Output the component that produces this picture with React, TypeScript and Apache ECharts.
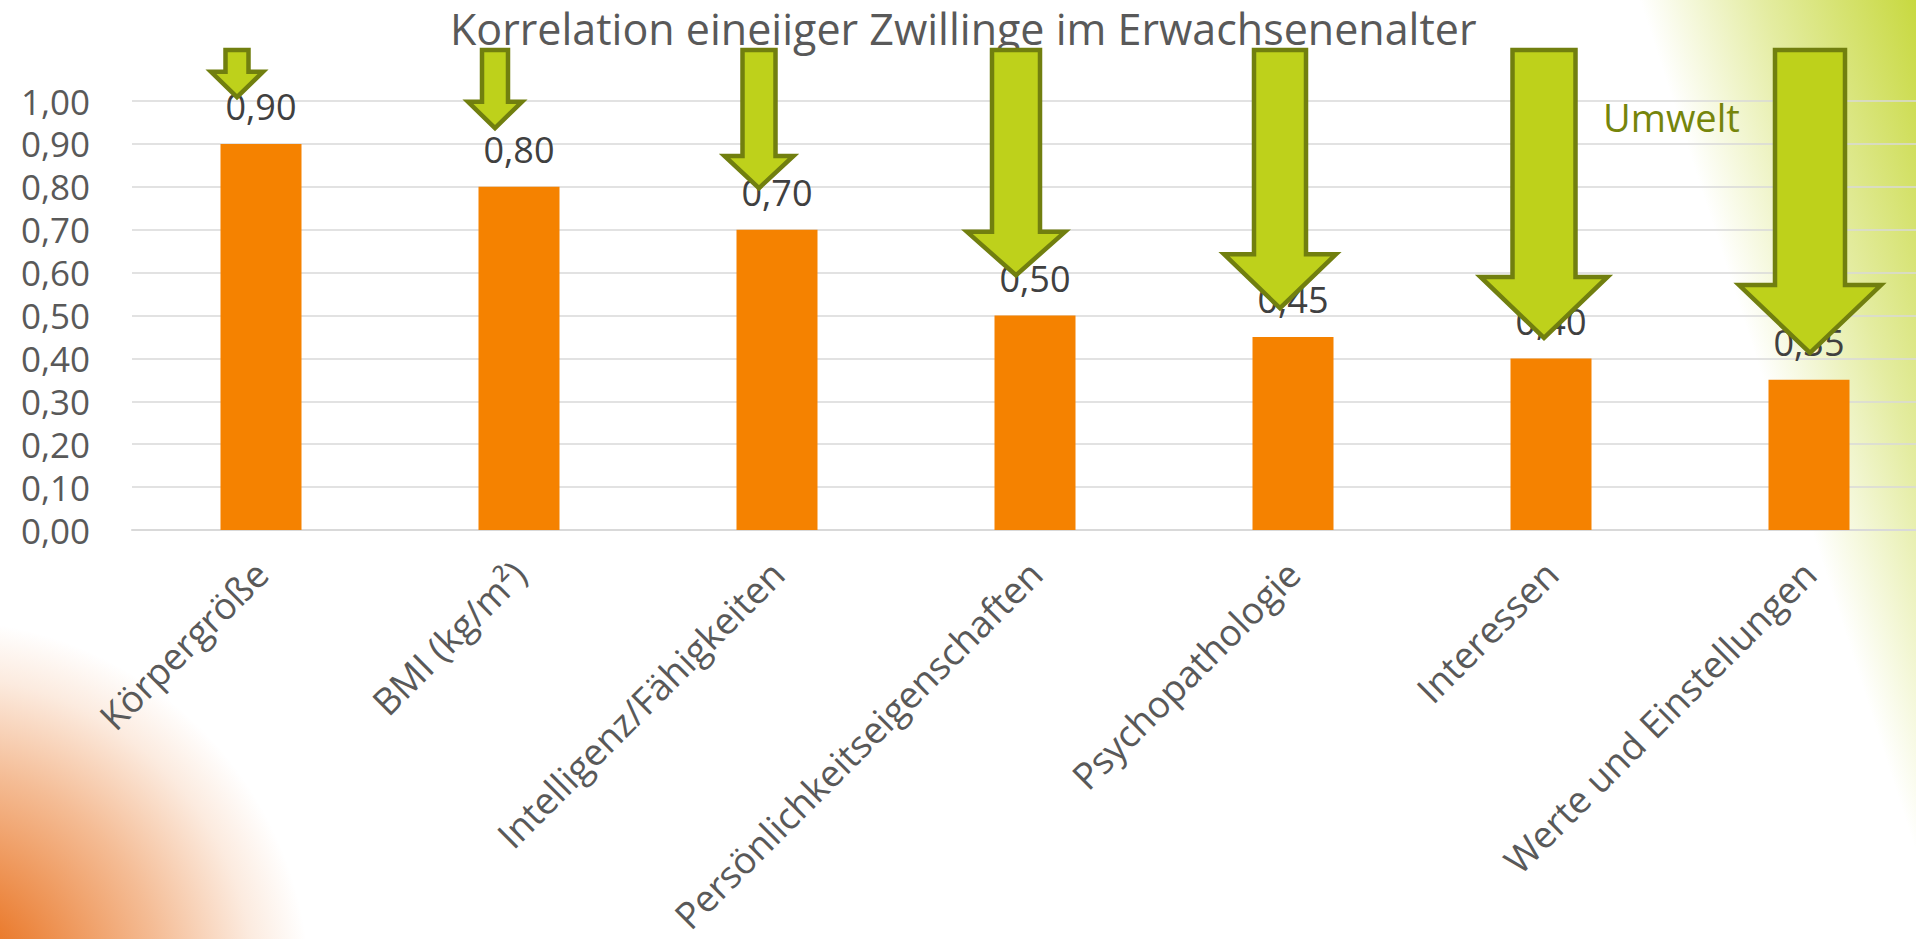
import React, { useEffect, useRef } from "react";
import * as echarts from "echarts";

// ---- data ----
const categories = [
  "Körpergröße",
  "BMI (kg/m²)",
  "Intelligenz/Fähigkeiten",
  "Persönlichkeitseigenschaften",
  "Psychopathologie",
  "Interessen",
  "Werte und Einstellungen",
];
const correlation = [0.9, 0.8, 0.7, 0.5, 0.45, 0.4, 0.35];
const yTicks = [0, 0.1, 0.2, 0.3, 0.4, 0.5, 0.6, 0.7, 0.8, 0.9, 1.0];

// "Umwelt" arrows, in value units (top of shaft, base of head, tip)
const arrowTop = [1.119, 1.119, 1.119, 1.119, 1.119, 1.119, 1.119];
const arrowHeadBase = [1.068, 0.998, 0.872, 0.695, 0.643, 0.59, 0.571];
const arrowTip = [1.009, 0.937, 0.797, 0.594, 0.517, 0.448, 0.413];

// arrow drawing sizes (px)
const arrowShaftWidth = [23, 26, 33, 48, 52, 63, 70];
const arrowHeadWidth = [52, 54, 69, 98, 112, 127, 142];
const arrowShift = [-24, -24, -18, -19, -13, -7, 1];

const title = "Korrelation eineiiger Zwillinge im Erwachsenenalter";
const noteText = "Umwelt";

const FONT = "'Open Sans', 'DejaVu Sans', sans-serif";
const fmt = (v: number) => v.toFixed(2).replace(".", ",");

export default function App() {
  const ref = useRef<HTMLDivElement>(null);

  useEffect(() => {
    if (!ref.current) return;
    const chart = echarts.init(ref.current, undefined, { renderer: "svg" });

    const arrowData = categories.map((_, i) => [i, arrowTip[i], arrowHeadBase[i], arrowTop[i]]);

    const orange = (a: number) => `rgba(232,110,25,${a})`;
    const green = (a: number) => `rgba(190,210,30,${a})`;

    const option: any = {
      animation: false,
      backgroundColor: "#ffffff",
      title: {
        text: title,
        left: 445,
        top: 1,
        textStyle: {
          fontFamily: FONT,
          fontSize: 43,
          fontWeight: "normal",
          color: "#595959",
          lineHeight: 44,
        },
      },
      graphic: [
        {
          type: "circle",
          z: -10,
          silent: true,
          shape: { cx: -60, cy: 990, r: 370 },
          style: {
            fill: new echarts.graphic.RadialGradient(-60, 990, 370, [
              { offset: 0, color: orange(1) },
              { offset: 0.22, color: orange(0.9) },
              { offset: 0.6, color: orange(0.46) },
              { offset: 0.85, color: orange(0.14) },
              { offset: 1, color: orange(0) },
            ], true),
          },
        },
        {
          type: "rect",
          z: -10,
          silent: true,
          shape: { x: 1500, y: 0, width: 416, height: 939 },
          style: {
            fill: new echarts.graphic.LinearGradient(1666, 81, 1916, 0, [
              { offset: 0, color: green(0) },
              { offset: 0.45, color: green(0.42) },
              { offset: 1, color: green(0.85) },
            ], true),
          },
        },
        {
          type: "text",
          z: 20,
          style: {
            x: 1603,
            y: 117,
            text: noteText,
            fontFamily: FONT,
            fontSize: 38,
            fill: "#76850B",
            verticalAlign: "middle",
            align: "left",
          },
        },
      ],
      grid: {
        left: 132,
        top: 101,
        width: 1806,
        bottom: 409,
        containLabel: false,
        outerBoundsMode: "none",
      },
      xAxis: {
        type: "category",
        data: categories,
        axisTick: { show: false },
        axisLine: { lineStyle: { color: "#D9D9D9", width: 2 } },
        axisLabel: {
          interval: 0,
          rotate: 45,
          margin: 37,
          fontFamily: FONT,
          fontSize: 37,
          color: "#595959",
        },
      },
      yAxis: {
        type: "value",
        min: yTicks[0],
        max: yTicks[yTicks.length - 1],
        interval: 0.1,
        axisLine: { show: false },
        axisTick: { show: false },
        splitLine: { lineStyle: { color: "#D9D9D9", width: 1.5 } },
        axisLabel: {
          margin: 42,
          fontFamily: FONT,
          fontSize: 35,
          lineHeight: 36,
          color: "#595959",
          formatter: (v: number) => fmt(v),
        },
      },
      series: [
        {
          type: "bar",
          data: correlation,
          barWidth: 81,
          itemStyle: { color: "#F58200" },
          label: {
            show: true,
            position: "top",
            distance: 19,
            fontFamily: FONT,
            fontSize: 36,
            lineHeight: 36,
            color: "#404040",
            formatter: (p: any) => fmt(p.value),
          },
          z: 2,
        },
        {
          type: "custom",
          data: arrowData,
          clip: false,
          z: 10,
          silent: true,
          encode: { x: 0, y: [1, 2, 3] },
          renderItem: (params: any, api: any) => {
            const i = api.value(0);
            const cx = api.coord([i, 0])[0] + arrowShift[i];
            const yTip = api.coord([i, api.value(1)])[1];
            const yBase = api.coord([i, api.value(2)])[1];
            const yTop = api.coord([i, api.value(3)])[1];
            const sw = arrowShaftWidth[i] / 2;
            const hw = arrowHeadWidth[i] / 2;
            return {
              type: "polygon",
              shape: {
                points: [
                  [cx - sw, yTop],
                  [cx + sw, yTop],
                  [cx + sw, yBase],
                  [cx + hw, yBase],
                  [cx, yTip],
                  [cx - hw, yBase],
                  [cx - sw, yBase],
                ],
              },
              style: { fill: "#BED11B", stroke: "#717F0F", lineWidth: 4.5, lineJoin: "miter" },
            };
          },
        },
      ],
    };

    chart.setOption(option);
    return () => chart.dispose();
  }, []);

  return (
    <div
      ref={ref}
      style={{ position: "fixed", left: 0, top: 0, width: 1916, height: 939 }}
    />
  );
}
